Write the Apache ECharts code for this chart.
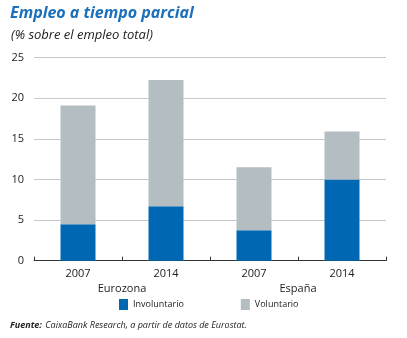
<!DOCTYPE html>
<html><head><meta charset="utf-8">
<script src="https://cdn.jsdelivr.net/npm/echarts@6/dist/echarts.min.js"></script>
<style>html,body{margin:0;padding:0;background:#fff}#c{width:407px;height:338px}</style>
</head><body><div id="c"></div>
<script>
const categories = ['2007', '2014', '2007', '2014'];
const groups = ['Eurozona', 'España'];
const involuntario = [4.5, 6.7, 3.75, 10.0];
const voluntario = [14.6, 15.55, 7.75, 5.9];
const yTicks = [0, 5, 10, 15, 20, 25];

const FONT = '"Open Sans", "Noto Sans", sans-serif';
const chart = echarts.init(document.getElementById('c'), null, {renderer: 'canvas'});
chart.setOption({
  animation: false,
  textStyle: {fontFamily: FONT},
  title: [
    {text: 'Empleo a tiempo parcial', left: 5, top: 0,
     textStyle: {fontSize: 16, fontWeight: 'bold', fontStyle: 'italic', color: '#1a70bb', fontFamily: FONT}},
    {text: '(% sobre el empleo total)', left: 6, top: 24,
     textStyle: {fontSize: 13, fontWeight: 'normal', fontStyle: 'italic', color: '#222', fontFamily: FONT}}
  ],
  grid: {left: 34, right: 21, top: 57.7, bottom: 77.3, containLabel: false},
  legend: {
    top: 299, left: 119, padding: 0, itemGap: 57, itemWidth: 9, itemHeight: 11,
    icon: 'rect',
    textStyle: {fontSize: 9, color: '#222', fontFamily: FONT},
    data: ['Involuntario', 'Voluntario']
  },
  xAxis: [
    {type: 'category', data: categories, position: 'bottom',
     axisLine: {lineStyle: {color: '#333', width: 1}},
     axisTick: {show: true, inside: true, length: 4, lineStyle: {color: '#333'}},
     axisLabel: {fontSize: 11, color: '#222', margin: 8, fontFamily: FONT}},
    {type: 'category', data: groups, position: 'bottom', offset: 15,
     axisLine: {show: false}, axisTick: {show: false},
     axisLabel: {fontSize: 11, color: '#222', margin: 8, fontFamily: FONT}}
  ],
  yAxis: {
    type: 'value', min: yTicks[0], max: yTicks[yTicks.length - 1], interval: 5,
    axisLine: {show: false}, axisTick: {show: false},
    axisLabel: {fontSize: 11, color: '#222', margin: 10, fontFamily: FONT},
    splitLine: {lineStyle: {color: '#c8c8c8', width: 1}}
  },
  series: [
    {name: 'Involuntario', type: 'bar', stack: 'a', data: involuntario, barWidth: 35,
     itemStyle: {color: '#0068b3'}},
    {name: 'Voluntario', type: 'bar', stack: 'a', data: voluntario, barWidth: 35,
     itemStyle: {color: '#b3bdc2'}}
  ],
  graphic: [
    {type: 'text', left: 10, top: 319,
     style: {rich: {b: {fontWeight: 'bold', fontStyle: 'italic', fontSize: 9, fill: '#222', fontFamily: FONT},
                    n: {fontStyle: 'italic', fontSize: 9, fill: '#222', fontFamily: FONT}},
             text: '{b|Fuente:} {n|CaixaBank Research, a partir de datos de Eurostat.}'}}
  ]
});
</script></body></html>
